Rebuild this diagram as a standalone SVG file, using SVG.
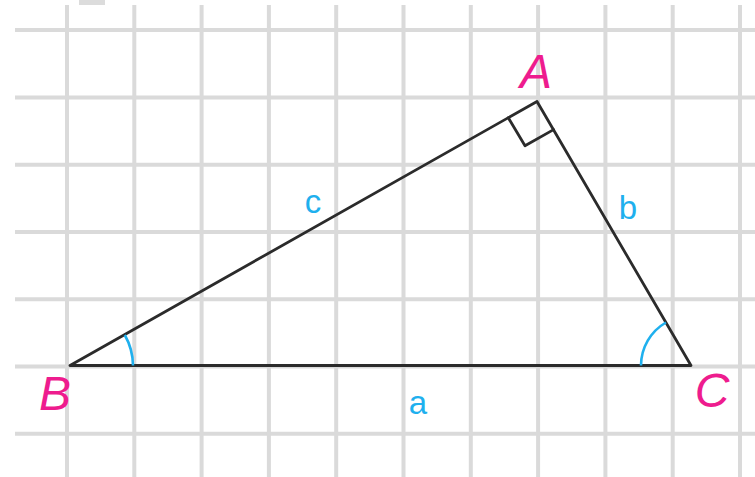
<svg xmlns="http://www.w3.org/2000/svg" width="755" height="477" viewBox="0 0 755 477">
<style>
.grid line{stroke:#dadada;stroke-width:4}
.edge{stroke:#2b2b2b;stroke-width:2.8;fill:none;stroke-linecap:round;stroke-linejoin:round}
.arc{stroke:#1fb0ee;stroke-width:2.6;fill:none}
.vlab{font-family:"Liberation Sans",Arial,sans-serif;font-style:italic;font-size:48px;fill:#ee1c8e;text-anchor:middle}
.slab{font-family:"Liberation Sans",Arial,sans-serif;font-size:33px;fill:#1fb0ee;text-anchor:middle}
</style>
<rect width="755" height="477" fill="#ffffff"/>
<g class="grid" id="grid">
<rect x="79" y="0" width="26" height="5" fill="#dcdcdc"/>
<line x1="15" y1="30" x2="755" y2="30"/>
<line x1="15" y1="97.5" x2="755" y2="97.5"/>
<line x1="15" y1="164.8" x2="755" y2="164.8"/>
<line x1="15" y1="232" x2="755" y2="232"/>
<line x1="15" y1="299.2" x2="755" y2="299.2"/>
<line x1="15" y1="366.5" x2="755" y2="366.5"/>
<line x1="15" y1="433.8" x2="755" y2="433.8"/>
<line x1="67" y1="5" x2="67" y2="477"/>
<line x1="134.3" y1="5" x2="134.3" y2="477"/>
<line x1="201.6" y1="5" x2="201.6" y2="477"/>
<line x1="268.9" y1="5" x2="268.9" y2="477"/>
<line x1="336.2" y1="5" x2="336.2" y2="477"/>
<line x1="403.5" y1="5" x2="403.5" y2="477"/>
<line x1="470.8" y1="5" x2="470.8" y2="477"/>
<line x1="538.1" y1="5" x2="538.1" y2="477"/>
<line x1="605.4" y1="5" x2="605.4" y2="477"/>
<line x1="672.7" y1="5" x2="672.7" y2="477"/>
<line x1="740" y1="5" x2="740" y2="477"/>
</g>
<g id="connectors">
<path class="edge" d="M70 365.5 L691 365.5 L537 101.5 Z"/>
<path class="edge" d="M508.3 117.8 L525 145.8 L553.6 129.6"/>
<path class="arc" d="M124.8 335 A63 63 0 0 1 133 365.5"/>
<path class="arc" d="M641 365.5 A50 50 0 0 1 665.9 322.5"/>
</g>
<g id="A"><text class="vlab" x="536" y="88">A</text></g>
<g id="B"><text class="vlab" x="55" y="410">B</text></g>
<g id="C"><text class="vlab" x="712" y="407">C</text></g>
<g id="label-a"><text class="slab" x="418" y="414">a</text></g>
<g id="label-b"><text class="slab" x="628" y="219">b</text></g>
<g id="label-c"><text class="slab" x="313" y="213">c</text></g>
</svg>
